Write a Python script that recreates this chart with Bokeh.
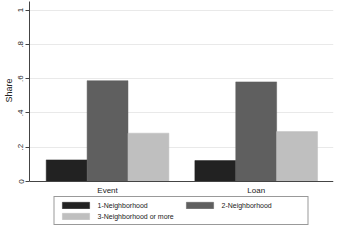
import numpy as np
from bokeh.plotting import figure
from bokeh.models import Range1d, FixedTicker, Legend, LegendItem, ColumnDataSource, Title
from bokeh.embed import file_html
from bokeh.resources import INLINE

categories = ["Event", "Loan"]
series_names = ["1-Neighborhood", "2-Neighborhood", "3-Neighborhood or more"]
one_nbhd = [0.126, 0.122]
two_nbhd = [0.588, 0.581]
three_nbhd = [0.282, 0.291]
y_ticks = [0, 0.2, 0.4, 0.6, 0.8, 1.0]
y_tick_labels = ["0", ".2", ".4", ".6", ".8", "1"]
y_title = "Share"

colors = ["#222222", "#5f5f5f", "#bfbfbf"]
series = [one_nbhd, two_nbhd, three_nbhd]

FONT = "Liberation Sans"
AXIS_COLOR = "#444444"

p = figure(width=335, height=226, output_backend="svg", toolbar_location=None,
           x_range=Range1d(-0.525, 1.52), y_range=Range1d(-0.2625, 1.05),
           min_border_left=0, min_border_right=2, min_border_top=1, min_border_bottom=0)
p.outline_line_color = None
p.background_fill_color = "white"
p.border_fill_color = "white"

xpos = np.arange(len(categories))
bw = 0.275
offsets = [-bw, 0.0, bw]
renderers = []
for vals, off, col in zip(series, offsets, colors):
    src = ColumnDataSource(dict(x=xpos + off, top=vals))
    r = p.vbar(x="x", top="top", bottom=0, width=bw, source=src,
               fill_color=col, line_color=col, line_width=0.5)
    renderers.append(r)

# y axis
p.yaxis.ticker = FixedTicker(ticks=y_ticks)
p.yaxis.bounds = (0, 1.05)
p.yaxis.major_label_overrides = {t: l for t, l in zip(y_ticks, y_tick_labels)}
p.yaxis.major_label_orientation = "vertical"
p.yaxis.major_label_text_font = FONT
p.yaxis.major_label_text_font_size = "8px"
p.yaxis.major_label_text_color = "#222222"
p.yaxis.major_label_standoff = 2
p.yaxis.major_tick_out = 4
p.yaxis.major_tick_in = 0
p.yaxis.minor_tick_line_color = None
p.yaxis.axis_line_color = AXIS_COLOR
p.yaxis.major_tick_line_color = AXIS_COLOR

# y-axis title, centred on the 0..1 part of the axis
p.add_layout(Title(text=y_title, align="right", offset=77, standoff=3,
                   text_font=FONT, text_font_size="9px", text_font_style="normal",
                   text_color="#222222"), "left")

# x axis, drawn at y = 0
p.xaxis.fixed_location = 0
p.xaxis.ticker = FixedTicker(ticks=list(xpos))
p.xaxis.major_label_overrides = {int(i): c for i, c in zip(xpos, categories)}
p.xaxis.major_label_text_font = FONT
p.xaxis.major_label_text_font_size = "8px"
p.xaxis.major_label_text_color = "#222222"
p.xaxis.major_tick_line_color = None
p.xaxis.major_tick_out = 0
p.xaxis.major_tick_in = 0
p.xaxis.minor_tick_line_color = None
p.xaxis.major_label_standoff = 4
p.xaxis.axis_line_color = AXIS_COLOR

p.xgrid.grid_line_color = None
p.ygrid.grid_line_color = "#e9e9e9"
p.ygrid.ticker = FixedTicker(ticks=y_ticks[1:])

items = [LegendItem(label=n, renderers=[r]) for n, r in zip(series_names, renderers)]
legend = Legend(items=items, nrows=2, orientation="horizontal", location="bottom_center",
                label_text_font=FONT, label_text_font_size="7px", label_text_color="#222222",
                label_text_baseline="middle",
                glyph_width=34, glyph_height=8, label_standoff=5,
                label_width=82, label_height=8, spacing=3,
                padding=4, margin=1,
                border_line_color="#333333", border_line_width=1,
                background_fill_color="white", background_fill_alpha=1)
p.add_layout(legend, "center")

open("out.html", "w").write(file_html(p, INLINE))
